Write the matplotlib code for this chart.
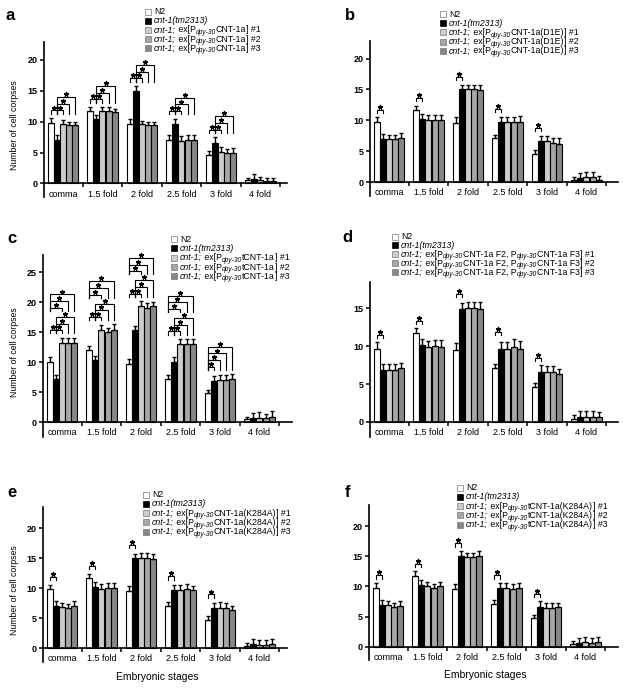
import matplotlib.pyplot as plt
from matplotlib.patches import Rectangle
import numpy as np

plt.rcParams['font.family'] = ['Liberation Sans', 'DejaVu Sans']

W, H = 626, 690

stages = ['comma', '1.5 fold', '2 fold', '2.5 fold', '3 fold', '4 fold']
colors = ['white', 'black', '#cdcdcd', '#a6a6a6', '#878787']

# rows: N2, cnt-1(tm2313), #1, #2, #3 ; columns: stages
a_means = [[9.8, 11.7, 9.6, 7.1, 4.6, 0.5],
           [7.0, 10.4, 15.0, 9.7, 6.6, 0.7],
           [9.6, 11.7, 9.6, 6.9, 5.1, 0.5],
           [9.5, 11.7, 9.4, 7.0, 4.9, 0.4],
           [9.5, 11.6, 9.5, 7.0, 5.0, 0.4]]
a_errs = [[0.8, 0.7, 0.9, 0.7, 0.6, 0.4],
          [0.8, 0.7, 0.8, 0.8, 0.9, 0.8],
          [0.6, 0.6, 0.5, 0.8, 0.8, 0.5],
          [0.5, 0.6, 0.5, 0.8, 0.7, 0.5],
          [0.5, 0.5, 0.5, 0.8, 0.8, 0.5]]

b_means = [[9.7, 11.6, 9.6, 7.1, 4.6, 0.4],
           [7.0, 10.3, 15.0, 9.7, 6.6, 0.7],
           [6.9, 10.0, 15.0, 9.7, 6.6, 0.8],
           [6.9, 10.0, 15.0, 9.7, 6.3, 0.8],
           [7.1, 10.0, 14.9, 9.8, 6.2, 0.4]]
b_errs = [[0.8, 0.8, 0.9, 0.6, 0.6, 0.5],
          [0.8, 0.8, 0.7, 0.8, 0.8, 0.8],
          [0.8, 0.9, 0.8, 0.9, 0.9, 0.8],
          [0.8, 0.9, 0.8, 0.9, 0.8, 0.8],
          [0.9, 0.8, 0.8, 0.9, 1.0, 0.6]]

c_means = [[10.0, 12.0, 9.7, 7.2, 4.8, 0.5],
           [7.2, 10.4, 15.3, 10.0, 6.8, 0.7],
           [13.2, 15.4, 19.3, 13.1, 7.1, 0.7],
           [13.2, 15.1, 19.1, 13.1, 7.1, 0.6],
           [13.2, 15.4, 19.3, 13.1, 7.2, 0.9]]
c_errs = [[0.8, 0.7, 0.8, 0.6, 0.6, 0.4],
          [0.7, 0.6, 0.7, 0.8, 0.9, 0.8],
          [0.9, 0.8, 0.9, 0.8, 0.8, 0.9],
          [0.9, 0.6, 0.8, 0.8, 0.8, 0.7],
          [0.9, 0.9, 0.8, 0.8, 0.8, 0.9]]

d_means = [[9.7, 11.7, 9.5, 7.1, 4.6, 0.4],
           [6.9, 10.2, 14.9, 9.7, 6.6, 0.6],
           [6.8, 9.9, 15.0, 9.7, 6.6, 0.6],
           [6.8, 10.0, 15.0, 9.9, 6.6, 0.6],
           [7.1, 9.9, 14.9, 9.7, 6.3, 0.6]]
d_errs = [[0.8, 0.7, 0.9, 0.6, 0.6, 0.5],
          [0.8, 0.8, 0.8, 0.8, 0.9, 0.8],
          [0.8, 0.8, 0.8, 0.9, 0.8, 0.8],
          [0.8, 0.8, 0.9, 1.0, 0.8, 0.8],
          [0.7, 0.9, 0.9, 1.0, 0.7, 0.7]]

e_means = [[9.8, 11.7, 9.5, 7.1, 4.7, 0.4],
           [7.0, 10.2, 15.0, 9.7, 6.7, 0.7],
           [6.8, 9.9, 15.0, 9.7, 6.7, 0.6],
           [6.7, 10.0, 15.0, 9.9, 6.7, 0.6],
           [7.1, 10.0, 14.9, 9.7, 6.3, 0.7]]
e_errs = [[0.8, 0.7, 0.9, 0.6, 0.6, 0.4],
          [0.8, 0.8, 0.7, 0.8, 0.8, 0.9],
          [0.7, 0.8, 0.9, 0.8, 1.0, 0.7],
          [0.7, 0.9, 0.8, 0.8, 0.8, 0.8],
          [0.8, 0.9, 0.8, 0.7, 0.8, 0.8]]

f_means = [[9.8, 11.7, 9.5, 7.1, 4.7, 0.4],
           [7.0, 10.2, 15.0, 9.7, 6.6, 0.7],
           [6.9, 10.0, 14.9, 9.7, 6.5, 0.8],
           [6.6, 9.7, 14.8, 9.5, 6.5, 0.6],
           [6.8, 10.0, 15.0, 9.7, 6.6, 0.8]]
f_errs = [[0.8, 0.8, 0.9, 0.6, 0.5, 0.5],
          [0.8, 0.8, 0.8, 0.8, 0.9, 0.7],
          [0.7, 0.8, 0.7, 0.9, 0.8, 0.8],
          [0.7, 0.7, 0.8, 0.9, 0.8, 0.8],
          [0.7, 0.8, 0.9, 0.9, 0.7, 0.8]]

# significance brackets: stage index -> (bar i, bar j, stack level)
a_sig = {g: [(0, 1, 0), (1, 2, 0), (1, 3, 1), (1, 4, 2)] for g in range(5)}
c_sig = {g: [(0, 1, 0), (1, 2, 0), (1, 3, 1), (1, 4, 2),
             (0, 2, 3.4), (0, 3, 4.4), (0, 4, 5.4)] for g in range(4)}
c_sig[4] = [(0, 1, 0), (0, 2, 1), (0, 3, 2), (0, 4, 3)]
single_sig = {g: [(0, 1, 0)] for g in range(5)}

# legend texts as (text, kind) pieces: n = normal, i = italic, s = subscript
def tg(body, n):
    return [('cnt-1;', 'i'), (' ex[P', 'n'), ('dpy-30', 's')] + body + [('] #' + str(n), 'n')]

def labels_for(body):
    return [[('N2', 'n')], [('cnt-1(tm2313)', 'i')]] + [tg(body, n) for n in (1, 2, 3)]

a_labels = labels_for([('CNT-1a', 'n')])
b_labels = labels_for([('CNT-1a(D1E)', 'n')])
c_labels = labels_for([('tCNT-1a', 'n')])
d_labels = labels_for([('CNT-1a F2, P', 'n'), ('dpy-30', 's'), ('CNT-1a F3', 'n')])
e_labels = labels_for([('CNT-1a(K284A)', 'n')])
f_labels = labels_for([('tCNT-1a(K284A)', 'n')])

panels = [
    dict(letter='a', means=a_means, errs=a_errs, sig=a_sig, box=(44, 287, 42, 197),
         ylim=(-2.2, 22.9), yticks=[0, 5, 10, 15, 20], leg=(145, 11.5, 9.2),
         labels=a_labels, letter_pos=(6, 20.5), ylab=True),
    dict(letter='b', means=b_means, errs=b_errs, sig=single_sig, box=(370, 618, 41, 196),
         ylim=(-2.25, 22.85), yticks=[0, 5, 10, 15, 20], leg=(440, 14, 9.2),
         labels=b_labels, letter_pos=(345, 20.5), ylab=False),
    dict(letter='c', means=c_means, errs=c_errs, sig=c_sig, box=(43, 292, 255, 437),
         ylim=(-2.5, 27.9), yticks=[0, 5, 10, 15, 20, 25], leg=(171, 239, 9.3),
         labels=c_labels, letter_pos=(7, 243), ylab=True),
    dict(letter='d', means=d_means, errs=d_errs, sig=single_sig, box=(370, 618, 282, 437),
         ylim=(-2.0, 18.5), yticks=[0, 5, 10, 15], leg=(392, 236.5, 8.9),
         labels=d_labels, letter_pos=(342, 242), ylab=False),
    dict(letter='e', means=e_means, errs=e_errs, sig=single_sig, box=(43, 287, 507, 662),
         ylim=(-2.3, 23.5), yticks=[0, 5, 10, 15, 20], leg=(143, 494.5, 9.3),
         labels=e_labels, letter_pos=(7, 497), ylab=True),
    dict(letter='f', means=f_means, errs=f_errs, sig=single_sig, box=(369, 618, 505, 660),
         ylim=(-2.2, 23.5), yticks=[0, 5, 10, 15, 20], leg=(457, 487.5, 9.3),
         labels=f_labels, letter_pos=(345, 497), ylab=False),
]

fig = plt.figure(figsize=(W / 100, H / 100), dpi=100)
renderer = fig.canvas.get_renderer()

group_px = 39.5
bw = 0.15
offs = [(k - 2) * 0.157 for k in range(5)]
main_fs, sub_fs = 6.3, 4.8


def rich_text(x, base, pieces):
    for s, kind in pieces:
        fs = sub_fs if kind == 's' else main_fs
        dy = 1.6 if kind == 's' else 0
        style = 'normal' if kind == 'n' else 'italic'
        t = fig.text(x / W, 1 - (base + dy) / H, s, fontsize=fs, style=style,
                     va='baseline', ha='left')
        x += t.get_window_extent(renderer).width


def floor_level(items, i, lvl):
    # brackets sharing the same left bar and stacked right above each other
    # drop their legs to the lowest one of that run
    levels = sorted(L for a, _, L in items if a == i)
    fl = lvl
    for L in reversed([L for L in levels if L < lvl]):
        if fl - L <= 1.01:
            fl = L
        else:
            break
    return fl


for p in panels:
    l, r, t, b = p['box']
    ax = fig.add_axes([l / W, 1 - b / H, (r - l) / W, (b - t) / H])
    x = np.arange(len(stages))
    for k in range(5):
        m = np.array(p['means'][k])
        e = np.array(p['errs'][k])
        ax.bar(x + offs[k], m, width=bw, color=colors[k], edgecolor='black',
               linewidth=0.8, zorder=2)
        ax.errorbar(x + offs[k], m, yerr=[np.zeros_like(e), e], fmt='none',
                    ecolor='black', elinewidth=1.0, capsize=1.6, capthick=1.0, zorder=3)
    ax.set_xlim(-0.48, (r - l) / group_px - 0.48)
    ax.set_ylim(*p['ylim'])
    ax.spines['top'].set_visible(False)
    ax.spines['right'].set_visible(False)
    ax.spines['bottom'].set_position(('data', 0))
    ax.spines['left'].set_linewidth(1.2)
    ax.spines['bottom'].set_linewidth(1.2)
    ax.set_xticks(x)
    ax.set_xticklabels(stages, fontsize=6.5)
    ax.set_xticks(np.arange(0.5, 6, 1), minor=True)
    ax.tick_params(axis='x', which='major', length=0, pad=4.5)
    ax.tick_params(axis='x', which='minor', length=3, width=1.1, direction='out')
    ax.set_yticks(p['yticks'])
    ax.set_yticklabels([str(v) for v in p['yticks']], fontsize=6.5, fontweight='bold')
    ax.tick_params(axis='y', length=3, width=1.1, pad=1.5)

    # significance brackets
    ppu = (b - t) / (p['ylim'][1] - p['ylim'][0])
    pad, step, leg = 7.5 / ppu, 6.6 / ppu, 3.2 / ppu
    for g, items in p['sig'].items():
        top = max(p['means'][k][g] + p['errs'][k][g] for k in range(5))
        base = top + pad
        for i, j, lvl in items:
            h = base + lvl * step
            foot = base + floor_level(items, i, lvl) * step - leg
            x1, x2 = g + offs[i], g + offs[j]
            ax.plot([x1, x1, x2, x2], [foot, h, h, foot], color='black',
                    lw=0.8, solid_joinstyle='miter', zorder=4, clip_on=False)
            ax.plot((x1 + x2) / 2, h + 2.9 / ppu, marker=(5, 2, 0), ms=3.7,
                    mew=0.9, color='black', zorder=5, clip_on=False)

    # legend
    lx, ly, ls = p['leg']
    for k, lab in enumerate(p['labels']):
        cy = ly + k * ls
        fig.patches.append(Rectangle((lx / W, 1 - (cy + 3) / H), 6 / W, 6 / H,
                                     transform=fig.transFigure, facecolor=colors[k],
                                     edgecolor='#777777' if k != 1 else 'black', lw=0.5))
        rich_text(lx + 9, cy + 2.6, lab)

    fig.text(p['letter_pos'][0] / W, 1 - p['letter_pos'][1] / H, p['letter'],
             fontsize=12, fontweight='bold', va='baseline', ha='left')
    if p['ylab']:
        fig.text(15 / W, 1 - (t + 0.535 * (b - t)) / H, 'Number of cell corpses',
                 rotation=90, fontsize=6.3, ha='center', va='center')

fig.text(157 / W, 1 - 677 / H, 'Embryonic stages', fontsize=7.5, ha='center', va='center')
fig.text(485 / W, 1 - 675 / H, 'Embryonic stages', fontsize=7.5, ha='center', va='center')

fig.savefig('out.png', dpi=100)
